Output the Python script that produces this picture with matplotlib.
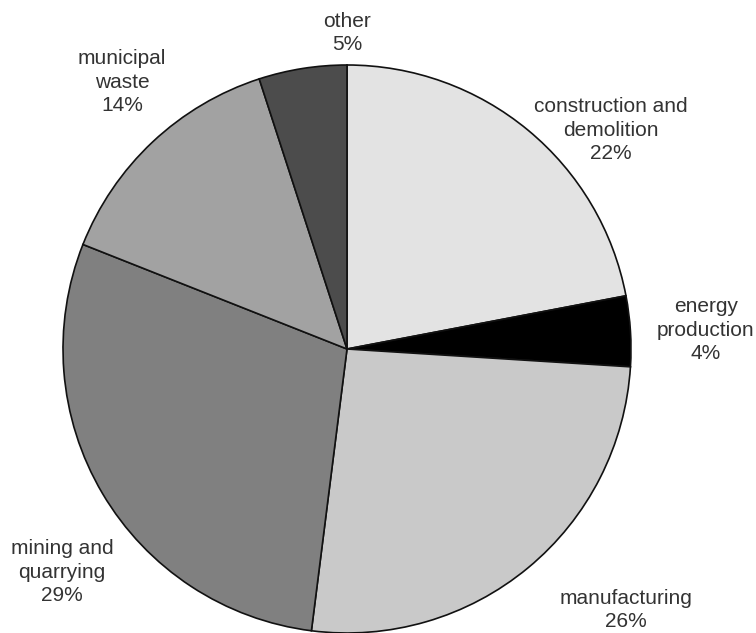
import matplotlib
matplotlib.use("Agg")
import matplotlib.pyplot as plt

labels = ["construction and\ndemolition", "energy\nproduction", "manufacturing",
          "mining and\nquarrying", "municipal\nwaste", "other"]
shares = [22, 4, 26, 29, 14, 5]
colors = ["#e3e3e3", "#000000", "#c9c9c9", "#808080", "#a2a2a2", "#4c4c4c"]

# label centres in pixel coords (x, y from top)
label_pos = [(611, 130), (706, 330), (626, 610), (62, 572), (122, 82), (347, 33)]

plt.rcParams['font.family'] = ['Liberation Sans', 'DejaVu Sans']

W, H = 756, 633
fig = plt.figure(figsize=(W / 100, H / 100), dpi=100)
ax = fig.add_axes([0, 0, 1, 1])

cx, cy, r = 347, H - 349, 284
ax.pie(shares, colors=colors, startangle=90, counterclock=False,
       center=(cx, cy), radius=r, frame=True,
       wedgeprops=dict(edgecolor='#111111', linewidth=1.2))
ax.set_xlim(0, W)
ax.set_ylim(0, H)
ax.set_aspect('equal')
ax.axis('off')

for lab, s, (x, y) in zip(labels, shares, label_pos):
    ax.text(x, H - y, f"{lab}\n{s}%", ha='center', va='center',
            fontsize=15, color='#333333', linespacing=1.3)

fig.savefig('out.png', dpi=100)
